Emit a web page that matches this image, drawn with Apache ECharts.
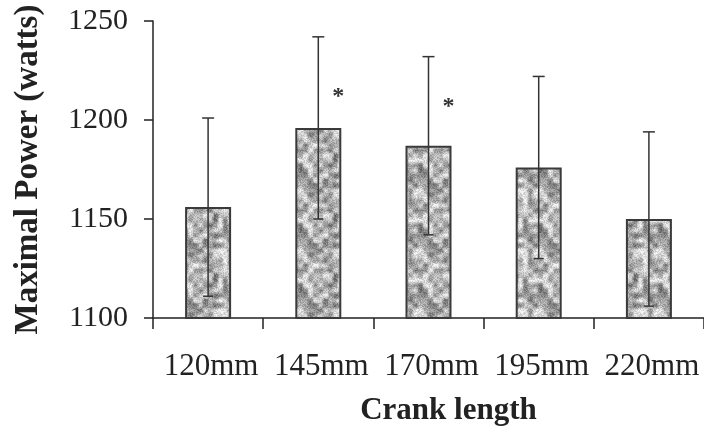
<!DOCTYPE html>
<html>
<head>
<meta charset="utf-8">
<script src="https://cdn.jsdelivr.net/npm/echarts@6/dist/echarts.min.js"></script>
<style>html,body{margin:0;padding:0;background:#fff;}#c{width:704px;height:432px;}</style>
</head>
<body>
<div id="c"></div>
<script>
const categories = ['120mm', '145mm', '170mm', '195mm', '220mm'];
const means = [1156, 1196, 1187, 1176, 1150];
const sds = [45, 46, 45, 46, 44];
const asterisks = [null, 1213, 1208, null, null];
const yMin = 1100, yMax = 1250, yInterval = 50;

// speckled texture (deterministic value noise)
function makeTexture() {
  const s = 60, cell = 5, n = s / cell;
  const cv = document.createElement('canvas');
  cv.width = s; cv.height = s;
  const ctx = cv.getContext('2d');
  function h(x, y, k) {
    x = ((x % n) + n) % n; y = ((y % n) + n) % n;
    const v = Math.sin(x * 127.1 + y * 311.7 + k * 74.7) * 43758.5453;
    return v - Math.floor(v);
  }
  function fh(x, y) {
    const v = Math.sin(x * 12.9898 + y * 78.233) * 43758.5453;
    return v - Math.floor(v);
  }
  function sm(t) { return t * t * (3 - 2 * t); }
  const img = ctx.createImageData(s, s);
  for (let y = 0; y < s; y++) {
    for (let x = 0; x < s; x++) {
      const gx = x / cell, gy = y / cell;
      const x0 = Math.floor(gx), y0 = Math.floor(gy);
      const tx = sm(gx - x0), ty = sm(gy - y0);
      const a = h(x0, y0, 1), b = h(x0 + 1, y0, 1), c = h(x0, y0 + 1, 1), d = h(x0 + 1, y0 + 1, 1);
      const v = (a * (1 - tx) + b * tx) * (1 - ty) + (c * (1 - tx) + d * tx) * ty;
      const f = fh(x, y);
      const val = 0.72 * v + 0.28 * f;
      let g = 80 + val * 195;
      if (g > 245) g = 245;
      const i = (y * s + x) * 4;
      img.data[i] = img.data[i + 1] = img.data[i + 2] = g;
      img.data[i + 3] = 255;
    }
  }
  ctx.putImageData(img, 0, 0);
  return cv;
}
const tex = makeTexture();

const chart = echarts.init(document.getElementById('c'));
const ink = '#222';
const serif = 'Liberation Serif';
chart.setOption({
  animation: false,
  backgroundColor: '#fff',
  grid: { left: 153, right: -3, top: 21, bottom: 114, containLabel: false },
  xAxis: {
    type: 'category',
    data: categories,
    name: 'Crank length',
    nameLocation: 'middle',
    nameGap: 77,
    nameTextStyle: { fontFamily: serif, fontWeight: 'bold', fontSize: 31, color: ink, padding: [0, 0, 0, 40] },
    axisLine: { lineStyle: { color: ink, width: 1.5 } },
    axisTick: { show: true, length: 11, lineStyle: { color: ink, width: 1.5 } },
    axisLabel: { fontFamily: serif, fontSize: 31, color: ink, margin: 33, interval: 0, padding: [0, 0, 0, 6] }
  },
  yAxis: {
    type: 'value',
    min: yMin, max: yMax, interval: yInterval,
    name: 'Maximal Power (watts)',
    nameLocation: 'middle',
    nameGap: 108,
    nameTextStyle: { fontFamily: serif, fontWeight: 'bold', fontSize: 33, color: ink },
    axisLine: { show: true, lineStyle: { color: ink, width: 1.5 } },
    axisTick: { show: true, length: 9, lineStyle: { color: ink, width: 1.5 } },
    axisLabel: { fontFamily: serif, fontSize: 30, color: ink, margin: 25, formatter: v => String(v) },
    splitLine: { show: false }
  },
  series: [
    {
      type: 'bar',
      data: means,
      barWidth: 46,
      itemStyle: { color: { image: tex, repeat: 'repeat' }, borderColor: '#3a3a3a', borderWidth: 2 },
      z: 2
    },
    {
      type: 'custom',
      data: means.map((m, i) => [i, m - sds[i], m + sds[i]]),
      renderItem: function (params, api) {
        const i = api.value(0);
        const lo = api.coord([i, api.value(1)]);
        const hi = api.coord([i, api.value(2)]);
        const st = { stroke: '#333', lineWidth: 1.5 };
        return {
          type: 'group',
          children: [
            { type: 'line', shape: { x1: hi[0], y1: hi[1], x2: lo[0], y2: lo[1] }, style: st },
            { type: 'line', shape: { x1: hi[0] - 6, y1: hi[1], x2: hi[0] + 6, y2: hi[1] }, style: st },
            { type: 'line', shape: { x1: lo[0] - 5, y1: lo[1], x2: lo[0] + 5, y2: lo[1] }, style: st }
          ]
        };
      },
      z: 3
    },
    {
      type: 'custom',
      data: asterisks.map((v, i) => v === null ? null : [i, v]).filter(d => d),
      renderItem: function (params, api) {
        const p = api.coord([api.value(0), api.value(1)]);
        return {
          type: 'text',
          x: p[0] + 20, y: p[1] + 3,
          style: { text: '*', fontFamily: serif, fontSize: 24, fontWeight: 'bold', fill: '#333', align: 'center', verticalAlign: 'middle' }
        };
      },
      z: 4
    }
  ]
});
</script>
</body>
</html>
